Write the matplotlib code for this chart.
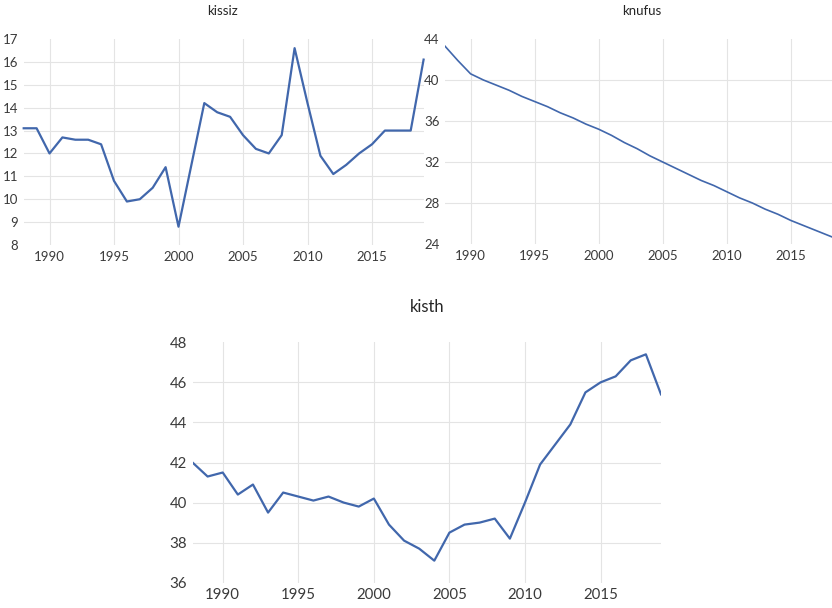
import matplotlib
matplotlib.use("Agg")
import matplotlib.pyplot as plt

years = list(range(1988, 2020))

kissiz = [13.1, 13.1, 12.0, 12.7, 12.6, 12.6, 12.4, 10.8, 9.9, 10.0, 10.5, 11.4,
          8.8, 11.5, 14.2, 13.8, 13.6, 12.8, 12.2, 12.0, 12.8, 16.6, 14.2, 11.9,
          11.1, 11.5, 12.0, 12.4, 13.0, 13.0, 13.0, 16.1]

knufus = [43.3, 41.9, 40.6, 40.0, 39.5, 39.0, 38.4, 37.9, 37.4, 36.8, 36.3, 35.7,
          35.2, 34.6, 33.9, 33.3, 32.6, 32.0, 31.4, 30.8, 30.2, 29.7, 29.1, 28.5,
          28.0, 27.4, 26.9, 26.3, 25.8, 25.3, 24.8, 24.3]

kisth = [42.0, 41.3, 41.5, 40.4, 40.9, 39.5, 40.5, 40.3, 40.1, 40.3, 40.0, 39.8,
         40.2, 38.9, 38.1, 37.7, 37.1, 38.5, 38.9, 39.0, 39.2, 38.2, 40.0, 41.9,
         42.9, 43.9, 45.5, 46.0, 46.3, 47.1, 47.4, 45.4]

xticks = [1990, 1995, 2000, 2005, 2010, 2015]
kissiz_yticks = list(range(8, 18))
knufus_yticks = [24, 28, 32, 36, 40, 44]
kisth_yticks = [36, 38, 40, 42, 44, 46, 48]

plt.rcParams['font.family'] = ['Lato', 'DejaVu Sans']

W, H = 832, 608
fig = plt.figure(figsize=(W / 100, H / 100), dpi=100)

LINE = '#4167AC'
GRID = '#E4E4E4'
TXT = '#3A3A3A'


def make_ax(px_left, px_right, px_top, px_bottom):
    return fig.add_axes([px_left / W, 1 - px_bottom / H,
                         (px_right - px_left) / W, (px_bottom - px_top) / H])


def style(ax, yticks, fs):
    ax.set_xlim(1988, 2019)
    ax.set_ylim(yticks[0], yticks[-1])
    ax.set_xticks(xticks)
    ax.set_yticks(yticks)
    for s in ax.spines.values():
        s.set_visible(False)
    ax.grid(True, axis='x', color=GRID, linewidth=0.8)
    for v in yticks[1:-1]:
        ax.axhline(v, color=GRID, linewidth=0.8, zorder=0)
    ax.set_axisbelow(True)
    ax.tick_params(length=0, labelsize=fs, labelcolor=TXT, pad=4)


# kissiz
ax1 = make_ax(23.7, 423.6, 39, 245)
ax1.plot(years, kissiz, color=LINE, linewidth=1.6, clip_on=False)
style(ax1, kissiz_yticks, 9.5)
fig.text(222 / W, 1 - 11 / H, 'kissiz', ha='center', va='center', fontsize=9.5, color='#262626')

# knufus
ax2 = make_ax(445, 842, 39, 244)
ax2.plot(years, knufus, color=LINE, linewidth=1.2)
style(ax2, knufus_yticks, 9.5)
fig.text(642 / W, 1 - 11 / H, 'knufus', ha='center', va='center', fontsize=9.5, color='#262626')

# kisth
ax3 = make_ax(192.5, 661, 342.3, 582.7)
ax3.plot(years, kisth, color=LINE, linewidth=1.6)
style(ax3, kisth_yticks, 10.8)
fig.text(427 / W, 1 - 307 / H, 'kisth', ha='center', va='center', fontsize=12, color='#262626')

fig.savefig('out.png', dpi=100, facecolor='white')
